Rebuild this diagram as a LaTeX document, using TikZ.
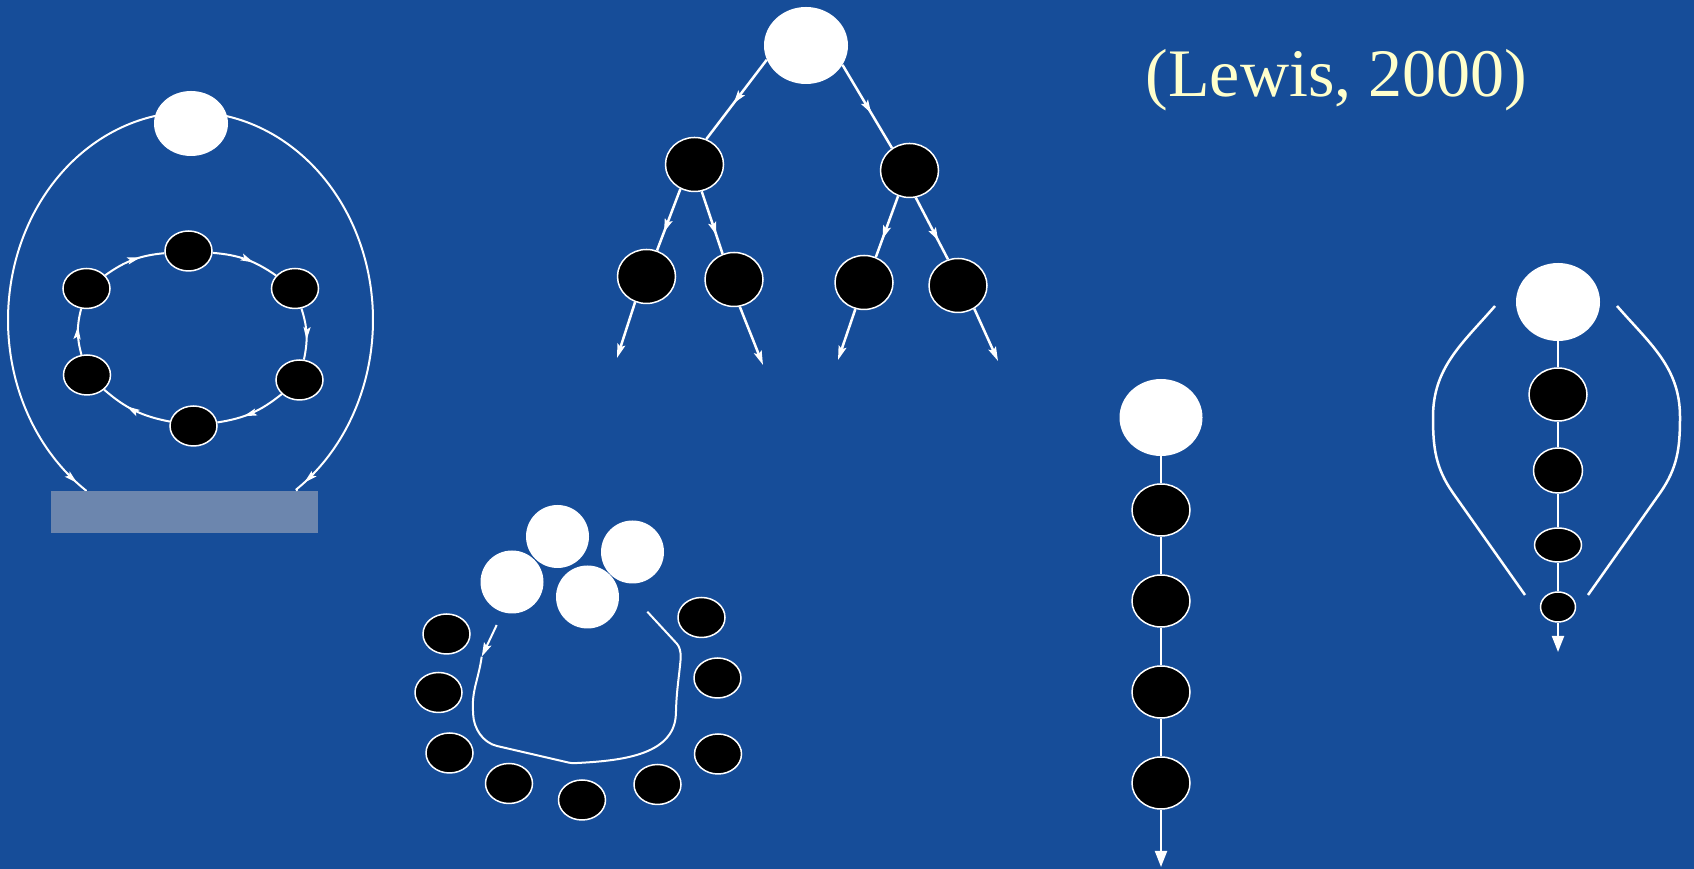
\documentclass[tikz,border=0pt]{standalone}
\usepackage{fontspec}
\setmainfont{Liberation Serif}
\usetikzlibrary{arrows.meta,decorations.markings,calc,shapes.geometric}
\definecolor{bg}{RGB}{22,77,153}
\definecolor{barcol}{RGB}{108,134,174}
\definecolor{txt}{RGB}{255,255,204}
\begin{document}
\begin{tikzpicture}[x=1pt,y=1pt,
  wnode/.style={ellipse, fill=white, inner sep=0pt},
  bnode/.style={ellipse, fill=black, draw=white, line width=1.5pt, inner sep=0pt, minimum width=47pt, minimum height=40pt},
  wline/.style={draw=white, line width=2pt},
  treeline/.style={draw=white, line width=2.5pt},
  midarr/.style={postaction={decorate}, decoration={markings, mark=at position #1 with {\arrow{Stealth[length=13pt,width=7pt,inset=2.5pt]}}}},
  bigarr/.style={decoration={markings, mark=at position #1 with {\arrow{Stealth[length=13pt,width=8pt,inset=2.5pt]}}}, postaction={decorate}},
  endtri/.style={-{Triangle[length=16pt,width=12pt]}},
  endst/.style={-{Stealth[length=14pt,width=8pt,inset=2.5pt]}}
]
\useasboundingbox (0,0) rectangle (1694,869);
\fill[bg] (0,0) rectangle (1694,869);

% ---------- panel 1: ring with outer loop ----------
\node[wnode, minimum width=74pt, minimum height=65pt] (w1) at (191,745.5) {};
\node[bnode] (r1) at (188.5,618) {};
\node[bnode] (r2) at (295,580.5) {};
\node[bnode] (r3) at (299.5,489) {};
\node[bnode] (r4) at (193.5,443) {};
\node[bnode] (r5) at (87,494) {};
\node[bnode] (r6) at (86.5,580.5) {};
\foreach \a/\b in {r1/r2,r2/r3,r3/r4,r4/r5,r5/r6,r6/r1}
  \draw[wline, midarr=0.62] (\a) to[bend left=15] (\b);
\node[rectangle, fill=barcol, inner sep=0pt, minimum width=267pt, minimum height=42pt] (bar) at (184.5,357) {};
\draw[wline, midarr=-12pt] (w1.170) -- plot[domain=101.5:235, samples=60, smooth] ({190.5+182.5*cos(\x)},{549+208*sin(\x)}) -- ($(bar.north west)+(35,0)$);
\draw[wline, midarr=-12pt] (w1.10) -- plot[domain=78.5:-54.5, samples=60, smooth] ({190.5+182.5*cos(\x)},{549+208*sin(\x)}) -- ($(bar.north east)+(-21,0)$);

% ---------- panel 2: tree ----------
\node[wnode, minimum width=84pt, minimum height=77pt] (t0) at (806,823.5) {};
\node[bnode, minimum width=58pt, minimum height=54pt] (t1) at (694.5,704.5) {};
\node[bnode, minimum width=58pt, minimum height=54pt] (t2) at (909.5,698.5) {};
\node[bnode, minimum width=58pt, minimum height=54pt] (ta) at (646.5,592.5) {};
\node[bnode, minimum width=58pt, minimum height=54pt] (tb) at (734,589.5) {};
\node[bnode, minimum width=58pt, minimum height=54pt] (tc) at (864,586.5) {};
\node[bnode, minimum width=58pt, minimum height=54pt] (td) at (958,583.5) {};
\draw[treeline, bigarr=0.55] (t0.200) -- (t1.65);
\draw[treeline, bigarr=0.58] (t0.332) -- (t2.128);
\draw[treeline, bigarr=0.7] (t1.240) -- (ta.68);
\draw[treeline, bigarr=0.7] (t1.285) -- (tb.114);
\draw[treeline, bigarr=0.7] (t2.246) -- (tc.65);
\draw[treeline, bigarr=0.7] (t2.283) -- (td.111);
\coordinate (ea) at (617,511);
\coordinate (eb) at (763,504);
\coordinate (ec) at (838,509);
\coordinate (ed) at (998,508);
\draw[treeline, endst] (ta.246) -- (ea);
\draw[treeline, endst] (tb.282) -- (eb);
\draw[treeline, endst] (tc.252) -- (ec);
\draw[treeline, endst] (td.305) -- (ed);

% ---------- panel 3: cluster ----------
\node[wnode, minimum size=63pt] (ca) at (557.5,332.5) {};
\node[wnode, minimum size=63pt] (cb) at (632.5,317) {};
\node[wnode, minimum size=63pt] (cc) at (512,287) {};
\node[wnode, minimum size=63pt] (cd) at (587.5,272) {};
\node[bnode] (p1) at (446.5,235) {};
\node[bnode] (p2) at (438.5,176.5) {};
\node[bnode] (p3) at (449.5,116) {};
\node[bnode] (p4) at (509,85.5) {};
\node[bnode] (p5) at (582,69) {};
\node[bnode] (p6) at (657.5,84.5) {};
\node[bnode] (p7) at (718,115) {};
\node[bnode] (p8) at (717.5,191) {};
\node[bnode] (p9) at (701.5,251.5) {};
\coordinate (s0) at (496.7,244);
\coordinate (s1) at (481.7,212.3);
\coordinate (s9) at (647.3,257.3);
\draw[wline, endst] (s0) -- (s1);
\draw[wline, rounded corners=3pt] (s1) to[out=262,in=92] (473,158) to[out=272,in=167] (500,122.3) -- (571.7,105.7) to[out=3,in=268] (676,158) to[out=88,in=265] (681,214) -- (679,223) -- (s9);

% ---------- panel 4: chain ----------
\node[wnode, minimum width=83pt, minimum height=77pt] (k0) at (1161,451.5) {};
\node[bnode, minimum width=58pt, minimum height=52pt] (k1) at (1161,359) {};
\node[bnode, minimum width=58pt, minimum height=52pt] (k2) at (1161,268) {};
\node[bnode, minimum width=58pt, minimum height=52pt] (k3) at (1161,177) {};
\node[bnode, minimum width=58pt, minimum height=52pt] (k4) at (1161,86) {};
\coordinate (kend) at (1161,2);
\draw[wline] (k0) -- (k1);
\draw[wline] (k1) -- (k2);
\draw[wline] (k2) -- (k3);
\draw[wline] (k3) -- (k4);
\draw[wline, endtri] (k4) -- (kend);

% ---------- panel 5: funnel ----------
\node[wnode, minimum width=84pt, minimum height=78pt] (m0) at (1558,567) {};
\node[bnode, minimum width=58pt, minimum height=53pt] (m1) at (1558,474.5) {};
\node[bnode, minimum width=49pt, minimum height=45pt] (m2) at (1558,398.5) {};
\node[bnode, minimum width=47pt, minimum height=34pt] (m3) at (1558,324) {};
\node[bnode, minimum width=35pt, minimum height=30pt] (m4) at (1558,262) {};
\coordinate (mend) at (1558,217);
\draw[wline] (m0) -- (m1);
\draw[wline] (m1) -- (m2);
\draw[wline] (m2) -- (m3);
\draw[wline] (m3) -- (m4);
\draw[wline, endtri] (m4) -- (mend);
\draw[draw=white, line width=2.5pt] (1495,563) to[out=229,in=90] (1433,452) to[out=270,in=125] (1453,376) -- (1525,274);
\draw[draw=white, line width=2.5pt] (1617,563) to[out=311,in=90] (1680,452) to[out=270,in=55] (1660,376) -- (1588,274);

% ---------- citation ----------
\node[anchor=base, text=txt, inner sep=0pt, font=\fontsize{68}{72}\selectfont] (cite) at (1336.5,772) {(Lewis, 2000)};
\end{tikzpicture}
\end{document}
